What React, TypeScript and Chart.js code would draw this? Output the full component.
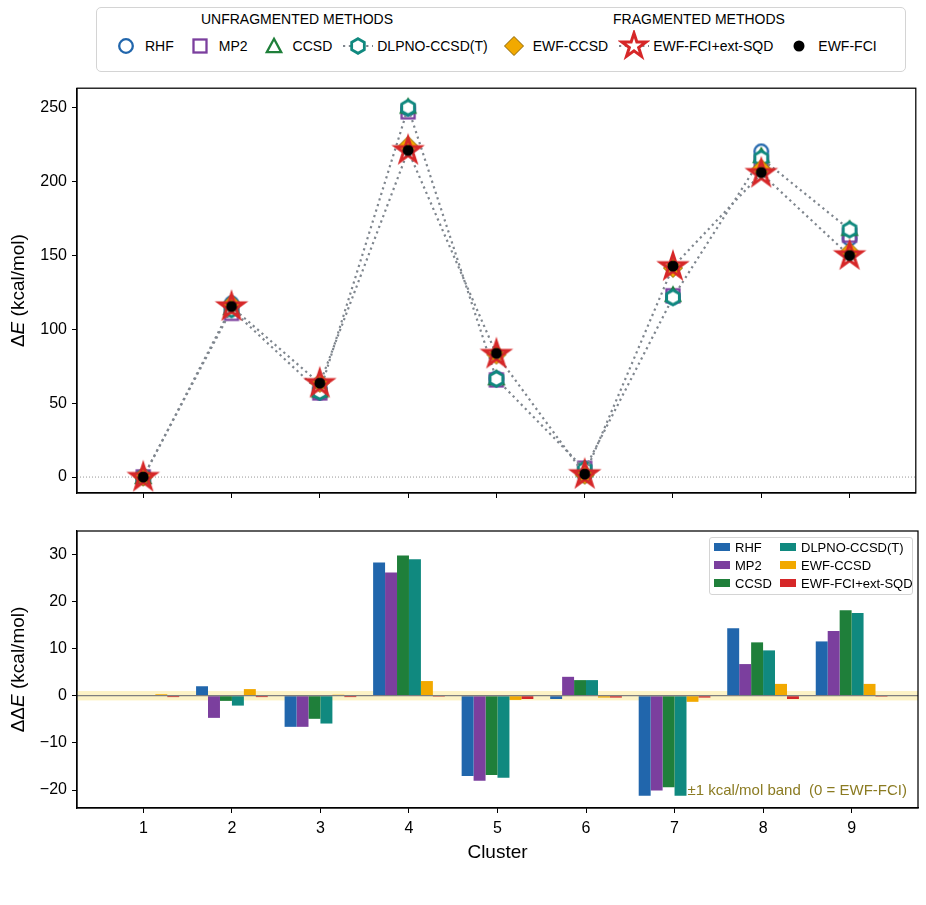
import React, { useEffect, useMemo, useRef } from 'react';
import { Chart, registerables } from 'chart.js';

Chart.register(...registerables);

const FONT = '"Liberation Sans", Arial, Helvetica, sans-serif';

// ---------- data ----------
const clusters = [1, 2, 3, 4, 5, 6, 7, 8, 9];
const topYTicks = [0, 50, 100, 150, 200, 250];
const bottomYTicks = [-20, -10, 0, 10, 20, 30];

// absolute energies (kcal/mol)
const rhfE = [0.1, 117.6, 57.0, 249.5, 66.8, 1.3, 121.7, 220.6, 161.6];
const mp2E = [0.1, 110.9, 57.0, 247.4, 65.8, 6.0, 122.8, 213.0, 163.8];
const ccsdE = [0.1, 114.5, 58.7, 251.0, 67.0, 5.3, 123.5, 217.6, 168.2];
const dlpnoE = [0.1, 113.5, 57.7, 250.2, 66.4, 5.3, 121.7, 215.9, 167.6];
const ewfCcsdE = [0.3, 117.0, 63.8, 224.4, 82.9, 1.6, 141.6, 208.8, 152.6];
const sqdE = [-0.3, 115.3, 63.3, 221.1, 83.1, 1.6, 142.5, 205.6, 149.9];
const ewfFciE = [0.0, 115.6, 63.6, 221.3, 83.8, 2.0, 142.9, 206.3, 150.1];

const COLORS = {
  rhf: '#2166ac',
  mp2: '#7b3f9e',
  ccsd: '#1f7f3a',
  dlpno: '#10897f',
  ewfCcsd: '#f2a900',
  sqd: '#d62728',
  fci: '#000000',
};

type Kind = 'circle' | 'square' | 'triangle' | 'hexagon' | 'diamond' | 'star' | 'dot';

const methods: { name: string; values: number[]; kind: Kind; color: string; line: boolean; order: number }[] = [
  { name: 'RHF', values: rhfE, kind: 'circle', color: COLORS.rhf, line: false, order: 6 },
  { name: 'MP2', values: mp2E, kind: 'square', color: COLORS.mp2, line: false, order: 5 },
  { name: 'CCSD', values: ccsdE, kind: 'triangle', color: COLORS.ccsd, line: false, order: 4 },
  { name: 'DLPNO-CCSD(T)', values: dlpnoE, kind: 'hexagon', color: COLORS.dlpno, line: true, order: 3 },
  { name: 'EWF-CCSD', values: ewfCcsdE, kind: 'diamond', color: COLORS.ewfCcsd, line: false, order: 2 },
  { name: 'EWF-FCI+ext-SQD', values: sqdE, kind: 'star', color: COLORS.sqd, line: true, order: 1 },
  { name: 'EWF-FCI', values: ewfFciE, kind: 'dot', color: COLORS.fci, line: false, order: 0 },
];

const LINE_GRAY = '#7f868e';
const DASH = [2.2, 3.6];

// ---------- markers ----------
function drawMarker(ctx: CanvasRenderingContext2D, kind: Kind, cx: number, cy: number, legend = false) {
  ctx.save();
  ctx.lineJoin = 'miter';
  switch (kind) {
    case 'circle':
      ctx.beginPath();
      ctx.arc(cx, cy, 6.8, 0, Math.PI * 2);
      ctx.lineWidth = 2.3;
      ctx.strokeStyle = COLORS.rhf;
      ctx.stroke();
      break;
    case 'square':
      ctx.lineWidth = 2.3;
      ctx.strokeStyle = COLORS.mp2;
      ctx.strokeRect(cx - 6.5, cy - 6.5, 13, 13);
      break;
    case 'triangle': {
      const r = 7.2;
      ctx.beginPath();
      ctx.moveTo(cx, cy - r);
      ctx.lineTo(cx + r, cy + r * 0.85);
      ctx.lineTo(cx - r, cy + r * 0.85);
      ctx.closePath();
      ctx.lineWidth = 2.3;
      ctx.strokeStyle = COLORS.ccsd;
      ctx.stroke();
      break;
    }
    case 'hexagon': {
      const r = 7.3;
      ctx.beginPath();
      for (let k = 0; k < 6; k++) {
        const a = -Math.PI / 2 + (k * Math.PI) / 3;
        const px = cx + r * Math.cos(a);
        const py = cy + r * Math.sin(a);
        if (k === 0) ctx.moveTo(px, py);
        else ctx.lineTo(px, py);
      }
      ctx.closePath();
      ctx.fillStyle = '#ffffff';
      ctx.fill();
      ctx.lineWidth = 2.8;
      ctx.strokeStyle = COLORS.dlpno;
      ctx.stroke();
      break;
    }
    case 'diamond': {
      const r = 9.5;
      ctx.beginPath();
      ctx.moveTo(cx, cy - r);
      ctx.lineTo(cx + r, cy);
      ctx.lineTo(cx, cy + r);
      ctx.lineTo(cx - r, cy);
      ctx.closePath();
      ctx.fillStyle = COLORS.ewfCcsd;
      ctx.fill();
      ctx.lineWidth = 1;
      ctx.strokeStyle = '#8c6400';
      ctx.stroke();
      break;
    }
    case 'star': {
      const R = 12.8;
      const rin = R * 0.381966;
      ctx.beginPath();
      for (let k = 0; k < 10; k++) {
        const rr = k % 2 === 0 ? R : rin;
        const a = -Math.PI / 2 + (k * Math.PI) / 5;
        const px = cx + rr * Math.cos(a);
        const py = cy + rr * Math.sin(a);
        if (k === 0) ctx.moveTo(px, py);
        else ctx.lineTo(px, py);
      }
      ctx.closePath();
      if (legend) {
        ctx.fillStyle = '#ffffff';
        ctx.fill();
      }
      ctx.lineWidth = 3;
      ctx.strokeStyle = COLORS.sqd;
      ctx.stroke();
      break;
    }
    case 'dot':
      ctx.beginPath();
      ctx.arc(cx, cy, 5.5, 0, Math.PI * 2);
      ctx.fillStyle = '#000';
      ctx.fill();
      break;
  }
  ctx.restore();
}

function markerCanvas(kind: Kind): HTMLCanvasElement {
  const c = document.createElement('canvas');
  c.width = 48;
  c.height = 48;
  const ctx = c.getContext('2d')!;
  drawMarker(ctx, kind, 24, 24);
  return c;
}

function legendIcon(kind: Kind, line: boolean): string {
  const c = document.createElement('canvas');
  c.width = 32;
  c.height = 32;
  const ctx = c.getContext('2d')!;
  if (line) {
    ctx.save();
    ctx.strokeStyle = LINE_GRAY;
    ctx.lineWidth = 2.2;
    ctx.setLineDash(DASH);
    ctx.beginPath();
    ctx.moveTo(1, 16);
    ctx.lineTo(31, 16);
    ctx.stroke();
    ctx.restore();
  }
  drawMarker(ctx, kind, 16, 16, true);
  return c.toDataURL();
}

const fmtMinus = (v: number) => (v < 0 ? '\u2212' + Math.abs(v) : String(v));

// ---------- plugins ----------
const framePlugin = {
  id: 'frame',
  afterDraw(chart: any) {
    const { ctx, chartArea: a } = chart;
    ctx.save();
    ctx.strokeStyle = '#000';
    ctx.lineWidth = 1.25;
    ctx.strokeRect(a.left, a.top, a.right - a.left, a.bottom - a.top);
    ctx.restore();
  },
};

function yTitlePlugin(prefix: string) {
  return {
    id: 'ytitle',
    afterDraw(chart: any) {
      const { ctx, chartArea: a } = chart;
      const size = 19;
      const segs: [string, boolean][] = [
        [prefix, false],
        ['E', true],
        [' (kcal/mol)', false],
      ];
      ctx.save();
      ctx.fillStyle = '#000';
      ctx.textBaseline = 'middle';
      ctx.textAlign = 'left';
      let total = 0;
      for (const [t, it] of segs) {
        ctx.font = `${it ? 'italic ' : ''}${size}px ${FONT}`;
        total += ctx.measureText(t).width;
      }
      ctx.translate(19, (a.top + a.bottom) / 2);
      ctx.rotate(-Math.PI / 2);
      let x = -total / 2;
      for (const [t, it] of segs) {
        ctx.font = `${it ? 'italic ' : ''}${size}px ${FONT}`;
        ctx.fillText(t, x, 0);
        x += ctx.measureText(t).width;
      }
      ctx.restore();
    },
  };
}

const topZeroPlugin = {
  id: 'topzero',
  beforeDatasetsDraw(chart: any) {
    const { ctx, chartArea: a, scales } = chart;
    const y = scales.y.getPixelForValue(0);
    ctx.save();
    ctx.strokeStyle = '#8a8a8a';
    ctx.lineWidth = 0.9;
    ctx.setLineDash([1, 2]);
    ctx.beginPath();
    ctx.moveTo(a.left, y);
    ctx.lineTo(a.right, y);
    ctx.stroke();
    ctx.restore();
  },
};

const bandPlugin = {
  id: 'band',
  beforeDatasetsDraw(chart: any) {
    const { ctx, chartArea: a, scales } = chart;
    const y1 = scales.y.getPixelForValue(1);
    const y2 = scales.y.getPixelForValue(-1);
    ctx.save();
    ctx.fillStyle = '#fdf3c6';
    ctx.fillRect(a.left, y1, a.right - a.left, y2 - y1);
    ctx.restore();
  },
  afterDatasetsDraw(chart: any) {
    const { ctx, chartArea: a, scales } = chart;
    const y = scales.y.getPixelForValue(0);
    ctx.save();
    ctx.strokeStyle = '#7f7f7f';
    ctx.lineWidth = 1.2;
    ctx.beginPath();
    ctx.moveTo(a.left, y);
    ctx.lineTo(a.right, y);
    ctx.stroke();
    ctx.fillStyle = '#8b7b22';
    ctx.font = `15px ${FONT}`;
    ctx.textAlign = 'right';
    ctx.textBaseline = 'middle';
    ctx.fillText('\u00b11 kcal/mol band  (0 = EWF-FCI)', a.right - 11, scales.y.getPixelForValue(-20.1));
    ctx.restore();
  },
};

const xTitlePlugin = {
  id: 'xtitle',
  afterDraw(chart: any) {
    const { ctx, chartArea: a } = chart;
    ctx.save();
    ctx.fillStyle = '#000';
    ctx.font = `19px ${FONT}`;
    ctx.textAlign = 'center';
    ctx.textBaseline = 'middle';
    ctx.fillText('Cluster', (a.left + a.right) / 2, a.bottom + 45);
    ctx.restore();
  },
};

const tickGrid = {
  drawOnChartArea: false,
  drawTicks: true,
  tickLength: 5,
  tickColor: '#000',
  tickWidth: 1,
  color: '#000',
  offset: false,
};

const yFit = (s: any) => {
  s.width = 77;
  s.paddingTop = 0;
  s.paddingBottom = 0;
};
const xFit = (h: number) => (s: any) => {
  s.height = h;
  s.paddingLeft = 0;
  s.paddingRight = 0;
};

export default function App() {
  const topRef = useRef<HTMLCanvasElement>(null);
  const botRef = useRef<HTMLCanvasElement>(null);

  const icons = useMemo(() => methods.map((m) => legendIcon(m.kind, m.line)), []);

  useEffect(() => {
    const markers = methods.map((m) => markerCanvas(m.kind));
    const top = new Chart(topRef.current!, {
      type: 'scatter',
      data: {
        datasets: methods.map((m, i) => ({
          label: m.name,
          data: clusters.map((c, j) => ({ x: c, y: m.values[j] })),
          pointStyle: markers[i] as any,
          pointRadius: 8,
          showLine: m.line,
          borderColor: LINE_GRAY,
          borderWidth: m.line ? 2.2 : 0,
          borderDash: DASH,
          borderCapStyle: 'butt',
          order: m.order,
          clip: false as any,
        })),
      },
      options: {
        animation: false,
        responsive: false,
        maintainAspectRatio: false,
        events: [],
        layout: { padding: { top: 5, right: 8, left: 0, bottom: 0 } },
        plugins: { legend: { display: false }, tooltip: { enabled: false } },
        scales: {
          x: {
            type: 'linear',
            offset: false,
            min: 0.25,
            max: 9.75,
            afterBuildTicks: (s: any) => {
              s.ticks = clusters.map((v) => ({ value: v }));
            },
            ticks: { display: false },
            grid: tickGrid,
            border: { display: true, color: '#000', width: 1.25 },
            afterFit: xFit(15),
          },
          y: {
            type: 'linear',
            min: -10.8,
            max: 263.4,
            afterBuildTicks: (s: any) => {
              s.ticks = topYTicks.map((v) => ({ value: v }));
            },
            ticks: {
              color: '#000',
              padding: 5,
              font: { family: FONT, size: 16 },
              callback: (v: any) => fmtMinus(Number(v)),
            },
            grid: tickGrid,
            border: { display: true, color: '#000', width: 1.25 },
            afterFit: yFit,
          },
        },
      },
      plugins: [topZeroPlugin, framePlugin, yTitlePlugin('\u0394')],
    });

    const barMethods = methods.slice(0, 6);
    const bot = new Chart(botRef.current!, {
      type: 'bar',
      data: {
        datasets: barMethods.map((m) => ({
          label: m.name,
          data: clusters.map((c, j) => ({ x: c, y: +(m.values[j] - ewfFciE[j]).toFixed(2) })),
          backgroundColor: m.color,
          borderWidth: 0,
          barPercentage: 1,
          categoryPercentage: 0.81,
        })),
      },
      options: {
        animation: false,
        responsive: false,
        maintainAspectRatio: false,
        events: [],
        layout: { padding: { top: 16, right: 8, left: 0, bottom: 0 } },
        plugins: { legend: { display: false }, tooltip: { enabled: false } },
        scales: {
          x: {
            type: 'linear',
            offset: false,
            min: 0.25,
            max: 9.75,
            afterBuildTicks: (s: any) => {
              s.ticks = clusters.map((v) => ({ value: v }));
            },
            ticks: {
              color: '#000',
              padding: 6,
              font: { family: FONT, size: 16 },
              callback: (v: any) => String(v),
            },
            grid: tickGrid,
            border: { display: true, color: '#000', width: 1.25 },
            afterFit: xFit(67),
          },
          y: {
            type: 'linear',
            min: -23.8,
            max: 34.9,
            afterBuildTicks: (s: any) => {
              s.ticks = bottomYTicks.map((v) => ({ value: v }));
            },
            ticks: {
              color: '#000',
              padding: 5,
              font: { family: FONT, size: 16 },
              callback: (v: any) => fmtMinus(Number(v)),
            },
            grid: tickGrid,
            border: { display: true, color: '#000', width: 1.25 },
            afterFit: yFit,
          },
        },
      },
      plugins: [bandPlugin, framePlugin, yTitlePlugin('\u0394\u0394'), xTitlePlugin],
    });

    return () => {
      top.destroy();
      bot.destroy();
    };
  }, []);

  const barLegend = methods.slice(0, 6);

  return (
    <div
      style={{
        position: 'fixed',
        left: 0,
        top: 0,
        width: 926,
        height: 905,
        background: '#fff',
        fontFamily: FONT,
        color: '#000',
        overflow: 'hidden',
      }}
    >
      {/* top legend */}
      <div
        style={{
          position: 'absolute',
          left: 96,
          top: 7,
          width: 810,
          height: 65,
          border: '1.5px solid #d4d4d4',
          borderRadius: 5,
          boxSizing: 'border-box',
        }}
      >
        <div style={{ position: 'absolute', left: 200, top: 3, transform: 'translateX(-50%)', fontSize: 14, whiteSpace: 'nowrap' }}>
          UNFRAGMENTED METHODS
        </div>
        <div style={{ position: 'absolute', left: 602, top: 3, transform: 'translateX(-50%)', fontSize: 14, whiteSpace: 'nowrap' }}>
          FRAGMENTED METHODS
        </div>
        <div style={{ position: 'absolute', left: 13, top: 22, display: 'flex', alignItems: 'center', whiteSpace: 'nowrap' }}>
          {methods.map((m, i) => (
            <div key={m.name} style={{ display: 'flex', alignItems: 'center', marginRight: i < methods.length - 1 ? 10 : 0 }}>
              <img src={icons[i]} width={32} height={32} style={{ display: 'block' }} />
              <span style={{ fontSize: 14, marginLeft: 3 }}>{m.name}</span>
            </div>
          ))}
        </div>
      </div>

      <canvas ref={topRef} width={926} height={430} style={{ position: 'absolute', left: 0, top: 78 }} />
      <canvas ref={botRef} width={926} height={360} style={{ position: 'absolute', left: 0, top: 515 }} />

      {/* bottom legend */}
      <div
        style={{
          position: 'absolute',
          left: 709,
          top: 537,
          width: 204,
          height: 58,
          border: '1px solid #d4d4d4',
          borderRadius: 3,
          background: 'rgba(255,255,255,0.85)',
          boxSizing: 'border-box',
        }}
      >
        {barLegend.map((m, i) => (
          <div
            key={m.name}
            style={{
              position: 'absolute',
              left: 4 + Math.floor(i / 3) * 66,
              top: (i % 3) * 18,
              height: 18,
              display: 'flex',
              alignItems: 'center',
              whiteSpace: 'nowrap',
            }}
          >
            <div style={{ width: 16, height: 8, background: m.color }} />
            <span style={{ fontSize: 13, marginLeft: 5 }}>{m.name}</span>
          </div>
        ))}
      </div>
    </div>
  );
}
